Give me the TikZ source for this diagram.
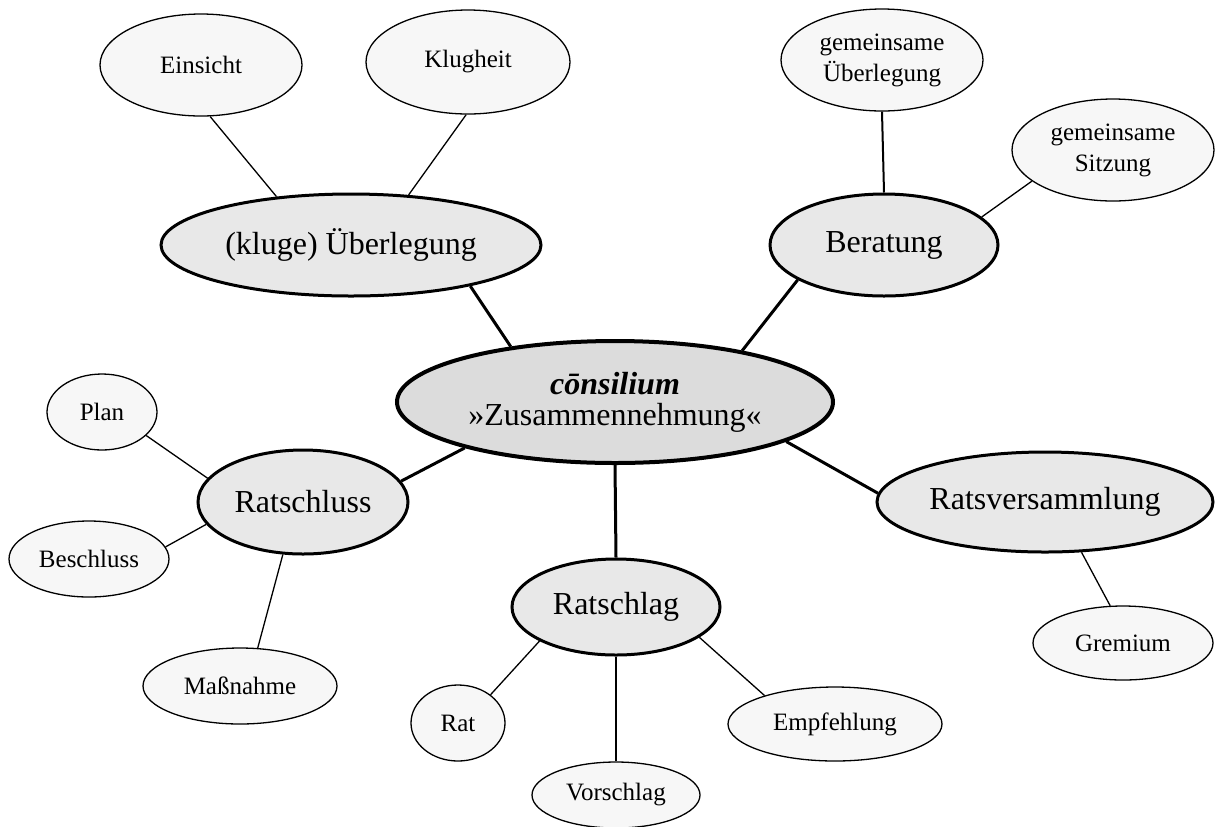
\documentclass[tikz,border=0pt]{standalone}
\usepackage{fontspec}
\setmainfont{Liberation Serif}
\usetikzlibrary{shapes.geometric}
\definecolor{hubgray}{HTML}{DCDCDC}
\definecolor{topicgray}{HTML}{E8E8E8}
\definecolor{leafgray}{HTML}{F7F7F7}
\tikzset{
  hub/.style={ellipse, draw, line width=2pt, fill=hubgray, inner sep=0pt, align=center,
    font=\fontsize{16}{15.5}\selectfont},
  topic/.style={ellipse, draw, line width=1.5pt, fill=topicgray, inner sep=0pt,
    font=\fontsize{16}{19}\selectfont},
  leaf/.style={ellipse, draw, line width=0.65pt, fill=leafgray, inner sep=0pt, align=center,
    font=\fontsize{12.5}{15.5}\selectfont},
  spoke/.style={line width=1.5pt},
  stem/.style={line width=1pt},
  twig/.style={line width=0.65pt}}

\begin{document}
\begin{tikzpicture}[x=0.5pt, y=-0.5pt]
\useasboundingbox (0,0) rectangle (1215,826);
% centre
\node[hub, minimum width=218pt, minimum height=61pt] (consilium) at (615,402)
  {\textbf{\textit{cōnsilium}}\\»Zusammennehmung«};
% topics
\node[topic, minimum width=190pt, minimum height=51pt] (ueberlegung) at (351,245) {(kluge) Überlegung};
\node[topic, minimum width=114pt, minimum height=51pt] (beratung) at (884,245) {Beratung};
\node[topic, minimum width=105pt, minimum height=52pt] (ratschluss) at (303,502) {Ratschluss};
\node[topic, minimum width=104pt, minimum height=48pt] (ratschlag) at (616,607) {Ratschlag};
\node[topic, minimum width=168pt, minimum height=50pt] (versammlung) at (1045,502) {Ratsversammlung};
% leaves
\node[leaf, minimum width=101pt, minimum height=51pt] (einsicht) at (201,65) {Einsicht};
\node[leaf, minimum width=102pt, minimum height=52pt] (klugheit) at (468,62) {Klugheit};
\node[leaf, minimum width=101pt, minimum height=51pt] (gemueb) at (882,60) {gemeinsame\\Überlegung};
\node[leaf, minimum width=101pt, minimum height=51pt] (gemsitz) at (1113,150) {gemeinsame\\Sitzung};
\node[leaf, minimum width=55pt, minimum height=38pt] (plan) at (102,412) {Plan};
\node[leaf, minimum width=80pt, minimum height=38pt] (beschluss) at (89,559) {Beschluss};
\node[leaf, minimum width=97pt, minimum height=38pt] (massnahme) at (240,686) {Maßnahme};
\node[leaf, minimum width=47pt, minimum height=38pt] (rat) at (458,723) {Rat};
\node[leaf, minimum width=84pt, minimum height=33pt] (vorschlag) at (616,795) {Vorschlag};
\node[leaf, minimum width=107pt, minimum height=37pt] (empfehlung) at (835,724) {Empfehlung};
\node[leaf, minimum width=90pt, minimum height=37pt] (gremium) at (1123,643) {Gremium};
% spokes
\draw[spoke] (consilium.152) -- (ueberlegung.-19);
\draw[spoke] (consilium.22.6) -- (beratung.-158);
\draw[spoke] (consilium.-163.5) -- (ratschluss.12.8);
\draw[spoke] (consilium.south) -- (ratschlag.north);
\draw[spoke] (consilium.-13.4) -- (versammlung.177.6);
% twigs
\draw[twig] (einsicht.-80) -- (ueberlegung.147);
\draw[twig] (klugheit.-92) -- (ueberlegung.41);
\draw[stem] (gemueb.south) -- (beratung.north);
\draw[twig] (gemsitz.-159) -- (beratung.16);
\draw[twig] (plan.-28) -- (ratschluss.166.5);
\draw[twig] (beschluss.9) -- (ratschluss.-167);
\draw[twig] (massnahme.65) -- (ratschluss.-111);
\draw[twig] (rat.41) -- (ratschlag.-156.5);
\draw[stem] (vorschlag.north) -- (ratschlag.south);
\draw[twig] (empfehlung.158) -- (ratschlag.-20);
\draw[twig] (gremium.109) -- (versammlung.-54);
\end{tikzpicture}
\end{document}
